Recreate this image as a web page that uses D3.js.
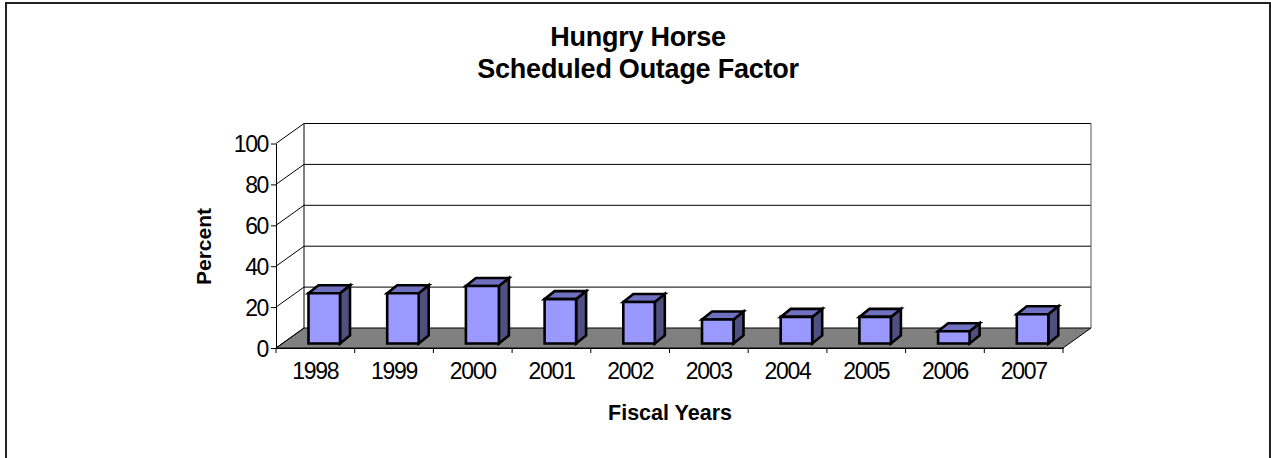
<!DOCTYPE html>
<html><head><meta charset="utf-8">
<script src="https://cdnjs.cloudflare.com/ajax/libs/d3/7.8.5/d3.min.js"></script>
<style>html,body{margin:0;padding:0;background:#fff}svg{display:block}text{font-family:"Liberation Sans",Arial,sans-serif;fill:#000}</style>
</head><body><div id="c"></div>
<script>
const years=["1998","1999","2000","2001","2002","2003","2004","2005","2006","2007"];
const outage=[24.6,24.6,28.1,21.7,20.3,11.7,13,13,6,14.3];
const yTicks=[0,20,40,60,80,100];
const titleLines=["Hungry Horse","Scheduled Outage Factor"];
const W=1271,H=458,x0=276,x1=1063,y0=348,y1=143.5,dx=28,dy=-20;
const svg=d3.select("#c").append("svg").attr("width",W).attr("height",H);
svg.append("rect").attr("x",6).attr("y",3).attr("width",1264).attr("height",H+4).attr("fill","#fff").attr("stroke","#222").attr("stroke-width",2);
const x=d3.scaleBand().domain(years).range([x0,x1]);
const y=d3.scaleLinear().domain([0,100]).range([y0,y1]);
const poly=(pts,fill,sw,stroke="#000")=>svg.append("polygon").attr("points",pts.map(p=>p.join(",")).join(" ")).attr("fill",fill).attr("stroke",stroke).attr("stroke-width",sw).attr("stroke-linejoin","miter");
// floor
poly([[x0,y0],[x0+dx,y0+dy],[x1+dx,y0+dy],[x1,y0]],"#808080",1);
// back wall and grid
svg.append("g").selectAll("line").data(yTicks.slice(1)).join("line")
 .attr("x1",x0+dx).attr("x2",x1+dx).attr("y1",d=>y(d)+dy).attr("y2",d=>y(d)+dy).attr("stroke","#000").attr("stroke-width",1);
svg.append("line").attr("x1",x0+dx).attr("x2",x0+dx).attr("y1",y(0)+dy).attr("y2",y(100)+dy).attr("stroke","#000");
svg.append("line").attr("x1",x1+dx).attr("x2",x1+dx).attr("y1",y(0)+dy).attr("y2",y(100)+dy).attr("stroke","#555");
// side wall diagonals
svg.append("g").selectAll("line").data(yTicks).join("line")
 .attr("x1",x0).attr("x2",x0+dx).attr("y1",d=>y(d)).attr("y2",d=>y(d)+dy).attr("stroke","#000");
// axes
const ya=d3.axisLeft(y).tickValues(yTicks).tickSize(5).tickSizeOuter(0);
const gy=svg.append("g").attr("transform",`translate(${x0},0)`).call(ya);
gy.selectAll("text").style("font-size","23px").style("letter-spacing","-1.4px").attr("dy","0.36em").attr("x",-8);
const gx=svg.append("g").attr("transform",`translate(0,${y0})`).call(d3.axisBottom(x).tickSize(0));
gx.select(".domain").attr("stroke","#000");
gx.selectAll("text").style("font-size","23px").style("letter-spacing","-1.3px").attr("y",31).attr("dy",0);
svg.append("g").selectAll("line").data(years.concat(["end"])).join("line")
 .attr("x1",(d,i)=>x0+i*x.step()).attr("x2",(d,i)=>x0+i*x.step()).attr("y1",y0).attr("y2",y0+5).attr("stroke","#000");
// bars
const fx=6.3,fy=-4.5,bw=31.5,bdx=10,bdy=-8;
years.forEach((yr,i)=>{
 const l=x(yr)+fx+26.2, r=l+bw+(yr==="2000"?1.5:0), b=y0+fy, t=y(outage[i])+fy;
 poly([[r,b],[r+bdx,b+bdy],[r+bdx,t+bdy],[r,t]],"#505080",2.6);
 poly([[l,t],[l+bdx,t+bdy],[r+bdx,t+bdy],[r,t]],"#7070C0",2.6);
 poly([[l,t],[r,t],[r,b],[l,b]],"#9999FF",2.6);
});
// titles
svg.append("g").selectAll("text").data(titleLines).join("text")
 .attr("x",638).attr("y",(d,i)=>45.5+i*32.5).attr("text-anchor","middle").attr("font-weight","bold").style("font-size","27px").style("letter-spacing","-0.25px").text(d=>d);
svg.append("text").attr("x",670).attr("y",420).attr("text-anchor","middle").attr("font-weight","bold").style("font-size","21.5px").text("Fiscal Years");
svg.append("text").attr("transform","translate(211,246.5) rotate(-90)").attr("text-anchor","middle").attr("font-weight","bold").style("font-size","21px").text("Percent");
</script></body></html>
